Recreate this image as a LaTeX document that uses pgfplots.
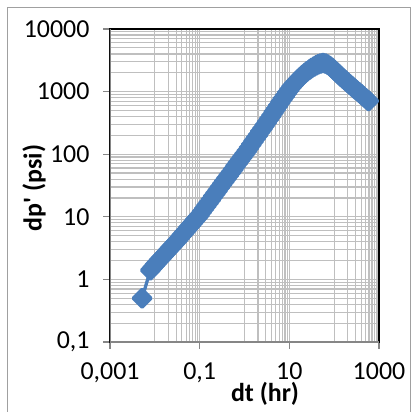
\documentclass[border=0pt]{standalone}
\usepackage{pgfplots}
\pgfplotsset{compat=1.18}
\usepackage{fontspec}
\setmainfont{Carlito}
\newfontfamily\plainfont{Carlito}
\definecolor{serblue}{HTML}{4A7EBB}
\definecolor{gridgray}{HTML}{BFBFBF}
\definecolor{axgray}{HTML}{868686}
\definecolor{framegray}{HTML}{A0A0A0}

\begin{document}
\begin{tikzpicture}[x=1bp,y=1bp]
\useasboundingbox (0,0) rectangle (419,412);
\draw[framegray, line width=1bp] (7.5,-2) -- (7.5,404.5) -- (410.5,404.5) -- (410.5,-2);
\begin{axis}[
  at={(110bp,70bp)}, anchor=south west,
  scale only axis, width=269bp, height=313bp,
  xmode=log, ymode=log,
  xmin=0.001, xmax=1000, ymin=0.1, ymax=10000,
  xtick={0.001,0.1,10,1000},
  xticklabels={{0,001},{0,1},10,1000},
  ytick={0.1,1,10,100,1000,10000},
  yticklabels={{0,1},1,10,100,1000,10000},
  minor xtick={0.01,0.02,0.03,0.04,0.05,0.06,0.07,0.08,0.09,
    1,2,3,4,5,6,7,8,9,100,200,300,400,500,600,700,800,900},
  minor ytick={0.2,0.3,0.4,0.5,0.6,0.7,0.8,0.9,2,3,4,5,6,7,8,9,
    20,30,40,50,60,70,80,90,200,300,400,500,600,700,800,900,
    2000,3000,4000,5000,6000,7000,8000,9000},
  grid=both,
  major grid style={gridgray, line width=1.2bp},
  minor grid style={gridgray, line width=1.2bp},
  tick align=outside, xtick pos=left, ytick pos=left,
  major tick length=7bp, minor tick length=0bp,
  tick style={axgray, line width=1.3bp},
  axis line style={black, line width=1.3bp},
  ticklabel style={font=\fontsize{26}{30}\selectfont},
  yticklabel style={xshift=-10bp},
  xticklabel style={yshift=-10bp},
]
% dp' derivative
\addplot[serblue, line width=3.3bp, line join=round, mark=square*, mark size=6.3bp,
  mark options={rotate=45, fill=serblue, draw=none}] coordinates {
(0.0052,0.5) (0.00794,1.40) (0.00891,1.54) (0.01,1.70) (0.01122,1.86)
(0.01259,2.03) (0.01413,2.22) (0.01585,2.43) (0.01778,2.66) (0.01995,2.91)
(0.02239,3.18) (0.02512,3.48) (0.02818,3.81) (0.03162,4.17) (0.03548,4.58)
(0.03981,5.04) (0.04467,5.53) (0.05012,6.08) (0.05623,6.68) (0.0631,7.35)
(0.07079,8.07) (0.07943,8.87) (0.08913,9.75) (0.1,10.7) (0.1122,12.0)
(0.1259,13.4) (0.1413,15.0) (0.1585,16.8) (0.1778,18.8) (0.1995,21.1)
(0.2239,23.6) (0.2512,26.4) (0.2818,29.6) (0.3162,33.1) (0.3548,37.0)
(0.3981,41.3) (0.4467,46.1) (0.5012,51.5) (0.5623,57.5) (0.631,64.3)
(0.7079,71.8) (0.7943,80.2) (0.8913,89.5) (1,100) (1.122,112)
(1.259,126) (1.413,142) (1.585,160) (1.778,180) (1.995,202)
(2.239,228) (2.512,256) (2.818,288) (3.162,324) (3.548,366)
(3.981,413) (4.467,467) (5.012,527) (5.623,596) (6.31,673)
(7.079,759) (7.943,853) (8.913,957) (10,1072) (11.22,1189)
(12.59,1312) (14.13,1439) (15.85,1570) (17.78,1706) (19.95,1845)
(22.39,1982) (25.12,2118) (28.18,2254) (31.62,2388) (35.48,2512)
(39.81,2630) (44.67,2735) (50.12,2818) (56.23,2858) (63.1,2818)
(70.79,2716) (79.43,2570) (89.13,2399) (100,2218) (112.2,2046)
(125.9,1888) (141.3,1746) (158.5,1614) (177.8,1500) (199.5,1393)
(223.9,1294) (251.2,1205) (281.8,1122) (316.2,1047) (354.8,975)
(398.1,906) (446.7,841) (501.2,783) (562.3,728) (590,708)
};
\draw[axgray, line width=1.3bp] (rel axis cs:0,1) -- (rel axis cs:0,0) -- (rel axis cs:1,0);
\end{axis}
\node[rotate=90, font=\plainfont\bfseries\fontsize{26}{30}\selectfont] at (34,224) {dp' (psi)};
\node[font=\plainfont\bfseries\fontsize{26}{30}\selectfont] at (265,18) {dt (hr)};
\end{tikzpicture}
\end{document}
